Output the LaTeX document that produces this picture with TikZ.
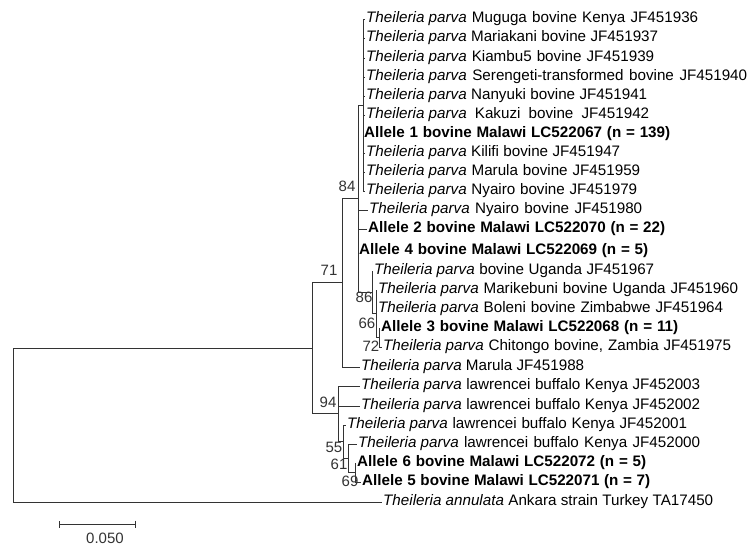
\documentclass[tikz,border=0pt]{standalone}
\usepackage{fontspec}
\setmainfont{Liberation Sans}
\usetikzlibrary{arrows.meta}
\newcommand{\Tp}{\mbox{\textit{Theileria parva}}}
\newcommand{\Ta}{\mbox{\textit{Theileria annulata}}}
% spread a taxon label over the width it takes in the figure
\newcommand{\tx}[2]{\makebox[#1pt][s]{#2}}

\begin{document}
\begin{tikzpicture}[x=1pt,y=-1pt,
  br/.style={line width=1pt,draw=black!80},
  taxon/.style={anchor=west,inner sep=1pt,font=\fontsize{15.2}{17}\selectfont},
  allele/.style={taxon,font=\fontsize{15.2}{17}\selectfont\bfseries},
  boot/.style={inner sep=0pt,font=\fontsize{15}{17}\selectfont,text=black!80}]
\useasboundingbox (0,0) rectangle (748,546);
% taxa
\node[taxon] (muguga) at (365,19) {\tx{332}{\Tp{} Muguga bovine Kenya JF451936}};
\node[taxon] (mariakani) at (365,38) {\tx{292}{\Tp{} Mariakani bovine JF451937}};
\node[taxon] (kiambu) at (365,58) {\tx{288}{\Tp{} Kiambu5 bovine JF451939}};
\node[taxon] (serengeti) at (365,77) {\tx{381}{\Tp{} Serengeti-transformed bovine JF451940}};
\node[taxon] (nanyuki) at (365,96) {\tx{281}{\Tp{} Nanyuki bovine JF451941}};
\node[taxon] (kakuzi) at (365,115) {\tx{283}{\Tp{} Kakuzi bovine JF451942}};
\node[allele] (allele1) at (363,134) {\tx{306}{Allele 1 bovine Malawi LC522067 (n = 139)}};
\node[taxon] (kilifi) at (365,153) {\tx{254}{\Tp{} Kilifi bovine JF451947}};
\node[taxon] (marula) at (365,172) {\tx{274}{\Tp{} Marula bovine JF451959}};
\node[taxon] (nyairoa) at (365,191) {\tx{271}{\Tp{} Nyairo bovine JF451979}};
\node[taxon] (nyairob) at (368,210) {\tx{273}{\Tp{} Nyairo bovine JF451980}};
\node[allele] (allele2) at (367,229) {\tx{297}{Allele 2 bovine Malawi LC522070 (n = 22)}};
\node[allele] (allele4) at (358,251) {\tx{289}{Allele 4 bovine Malawi LC522069 (n = 5)}};
\node[taxon] (uganda) at (373,271) {\tx{280}{\Tp{} bovine Uganda JF451967}};
\node[taxon] (marikebuni) at (377,290) {\tx{360}{\Tp{} Marikebuni bovine Uganda JF451960}};
\node[taxon] (boleni) at (377,309) {\tx{345}{\Tp{} Boleni bovine Zimbabwe JF451964}};
\node[allele] (allele3) at (380,328) {\tx{297}{Allele 3 bovine Malawi LC522068 (n = 11)}};
\node[taxon] (chitongo) at (382,347) {\tx{348}{\Tp{} Chitongo bovine, Zambia JF451975}};
\node[taxon] (marulab) at (360,367) {\tx{223}{\Tp{} Marula JF451988}};
\node[taxon] (buffa) at (360,386) {\tx{339}{\Tp{} lawrencei buffalo Kenya JF452003}};
\node[taxon] (buffb) at (360,406) {\tx{339}{\Tp{} lawrencei buffalo Kenya JF452002}};
\node[taxon] (buffc) at (346,425) {\tx{340}{\Tp{} lawrencei buffalo Kenya JF452001}};
\node[taxon] (buffd) at (357,444) {\tx{342}{\Tp{} lawrencei buffalo Kenya JF452000}};
\node[allele] (allele6) at (356,463) {\tx{289}{Allele 6 bovine Malawi LC522072 (n = 5)}};
\node[allele] (allele5) at (361,482) {\tx{288}{Allele 5 bovine Malawi LC522071 (n = 7)}};
\node[taxon] (annulata) at (382,502) {\tx{330}{\Ta{} Ankara strain Turkey TA17450}};
% internal nodes
\coordinate (np) at (363,105);
\coordinate (n72) at (379,337.5);
\coordinate (n66) at (376,313.75);
\coordinate (n86) at (372,292.4);
\coordinate (n84) at (358,198.7);
\coordinate (n71) at (342,282.9);
\coordinate (n69) at (355,472.5);
\coordinate (n61) at (348,458.25);
\coordinate (n55) at (343,441.6);
\coordinate (n94) at (338,413.8);
\coordinate (na) at (312,348.4);
\coordinate (root) at (13,425.2);
% branches
\foreach \t in {muguga,mariakani,kiambu,serengeti,nanyuki,kakuzi,allele1,kilifi,marula,nyairoa}
  \draw[br] (np) |- (\t.west);
\foreach \t in {np,nyairob,allele2,allele4,n86}
  \draw[br] (n84) |- (\t);
\draw[br] (n86) |- (uganda.west);
\draw[br] (n86) |- (n66);
\draw[br] (n66) |- (marikebuni.west);
\draw[br] (n66) |- (boleni.west);
\draw[br] (n66) |- (n72);
\draw[br] (n72) |- (allele3.west);
\draw[br] (n72) |- (chitongo.west);
\draw[br] (n71) |- (n84);
\draw[br] (n71) |- (marulab.west);
\draw[br] (n69) |- (allele6.west);
\draw[br] (n69) |- (allele5.west);
\draw[br] (n61) |- (buffd.west);
\draw[br] (n61) |- (n69);
\draw[br] (n55) |- (buffc.west);
\draw[br] (n55) |- (n61);
\draw[br] (n94) |- (buffa.west);
\draw[br] (n94) |- (buffb.west);
\draw[br] (n94) |- (n55);
\draw[br] (na) |- (n71);
\draw[br] (na) |- (n94);
\draw[br] (root) |- (na);
\draw[br] (root) |- (annulata.west);
% bootstrap values
\node[boot] (b84) at (347,186) {84};
\node[boot] (b71) at (329,270) {71};
\node[boot] (b86) at (364,297) {86};
\node[boot] (b66) at (367,323) {66};
\node[boot] (b72) at (371,346) {72};
\node[boot] (b94) at (328,402) {94};
\node[boot] (b55) at (334,447) {55};
\node[boot] (b61) at (339,464) {61};
\node[boot] (b69) at (350,481) {69};
% scale bar
\coordinate (sbl) at (59,524);
\coordinate (sbr) at (136,524);
\draw[br,{Bar[width=7pt]}-{Bar[width=7pt]}] (sbl) -- (sbr);
\node[boot] (scl) at (105,538) {0.050};
\end{tikzpicture}
\end{document}
